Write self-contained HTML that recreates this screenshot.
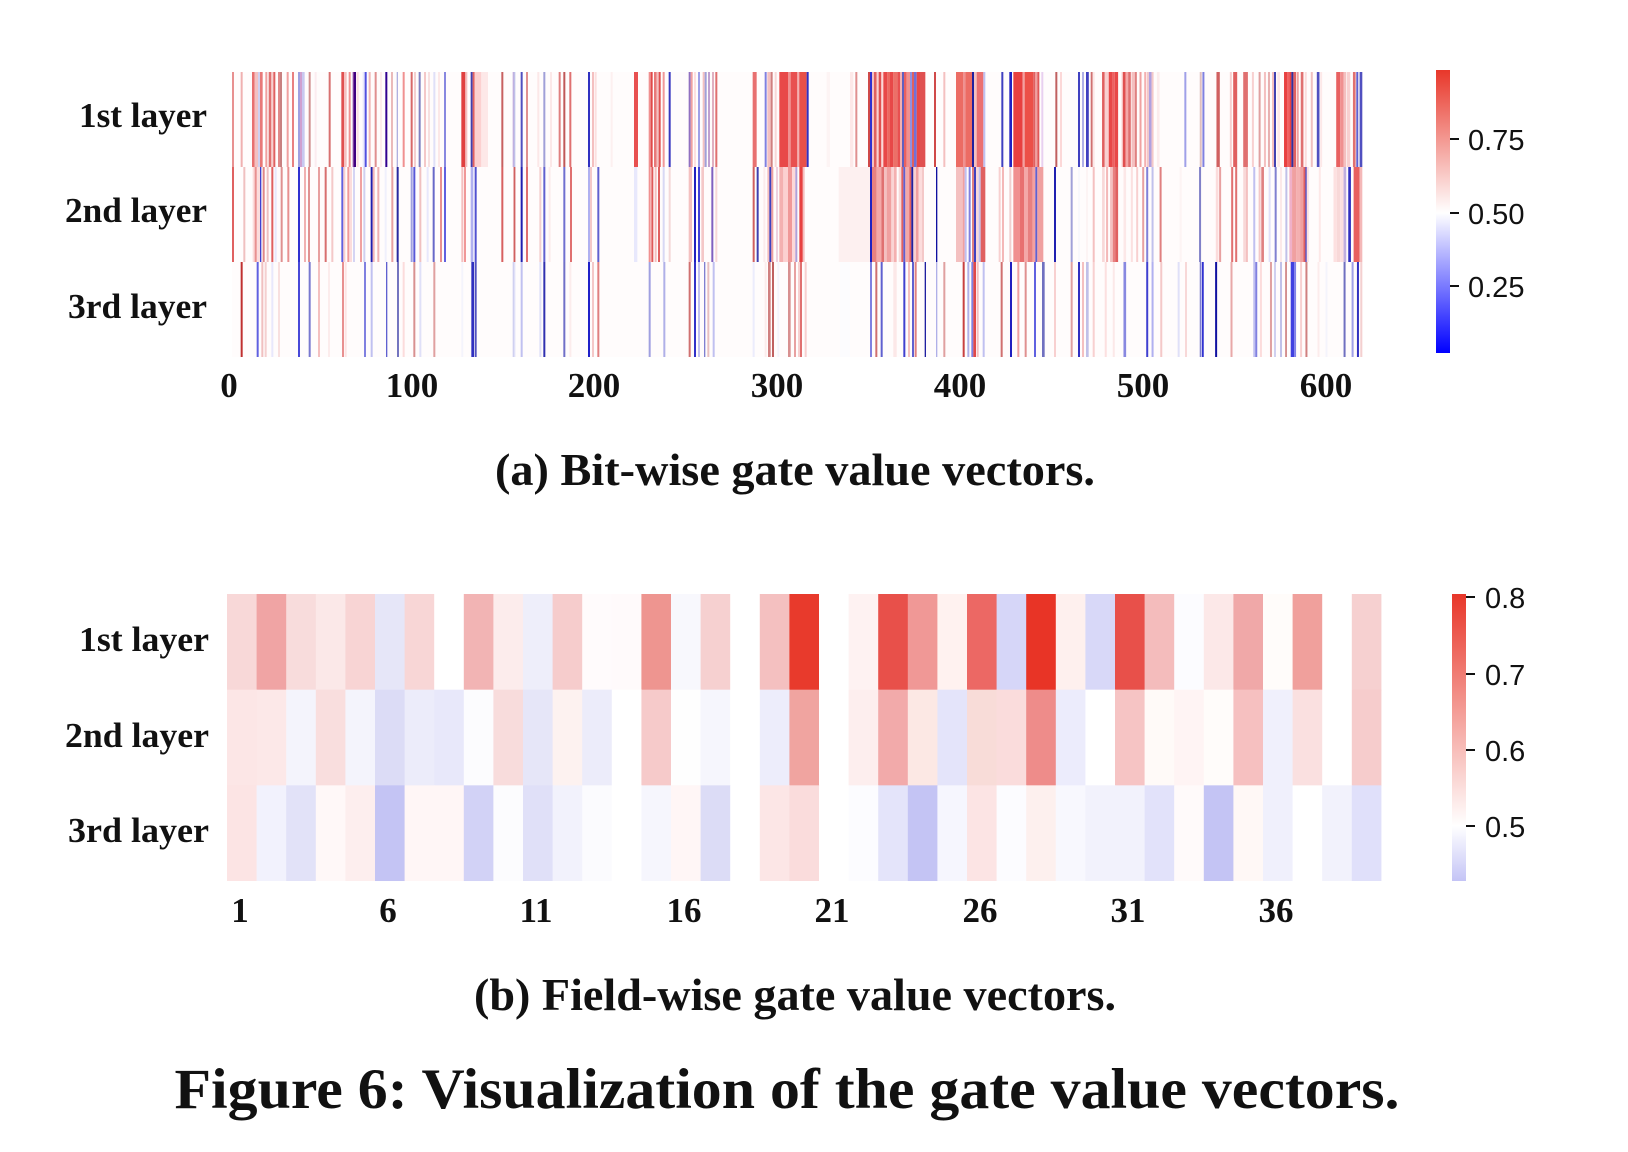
<!DOCTYPE html>
<html>
<head>
<meta charset="utf-8">
<style>
html,body{margin:0;padding:0;background:#fff;}
svg{display:block;}
.lab{font-family:"Liberation Serif",serif;font-weight:bold;fill:#111;}
.cb{font-family:"Liberation Sans",sans-serif;fill:#111;}
</style>
</head>
<body>
<svg width="1628" height="1152" viewBox="0 0 1628 1152" xmlns="http://www.w3.org/2000/svg">
<defs>
<linearGradient id="ga" x1="0" y1="0" x2="0" y2="1">
<stop offset="0" stop-color="#e8372a"/>
<stop offset="0.505" stop-color="#ffffff"/>
<stop offset="1" stop-color="#0000ff"/>
</linearGradient>
<linearGradient id="gb" x1="0" y1="0" x2="0" y2="1">
<stop offset="0" stop-color="#e8372a"/>
<stop offset="0.808" stop-color="#ffffff"/>
<stop offset="1" stop-color="#c4c4f6"/>
</linearGradient>
</defs>
<rect width="1628" height="1152" fill="#fff"/>

<!-- Panel (a) heatmap background -->
<rect x="232" y="72" width="1131" height="285" fill="#fffcfc"/>

<!-- Zoom 9 region -->
<g transform="translate(228,72) scale(0.33333,95)">
<rect x="12" y="0" width="6" height="1" fill="#e89090"/><rect x="38" y="0" width="6" height="1" fill="#f0b0b0"/><rect x="72" y="0" width="8" height="1" fill="#e87070"/><rect x="80" y="0" width="10" height="1" fill="#f4c0c0"/><rect x="90" y="0" width="6" height="1" fill="#d0d0f0"/><rect x="96" y="0" width="8" height="1" fill="#e87878"/><rect x="112" y="0" width="6" height="1" fill="#f0a0a0"/><rect x="122" y="0" width="8" height="1" fill="#e07070"/><rect x="130" y="0" width="6" height="1" fill="#f8d0d0"/><rect x="136" y="0" width="6" height="1" fill="#e06060"/><rect x="150" y="0" width="6" height="1" fill="#e08888"/><rect x="156" y="0" width="6" height="1" fill="#c88080"/><rect x="176" y="0" width="6" height="1" fill="#f0a0a0"/><rect x="192" y="0" width="6" height="1" fill="#e88080"/><rect x="210" y="0" width="6" height="1" fill="#a0a0e0"/><rect x="216" y="0" width="6" height="1" fill="#d0a0d0"/><rect x="222" y="0" width="8" height="1" fill="#c8c8f0"/><rect x="242" y="0" width="6" height="1" fill="#d09090"/><rect x="260" y="0" width="6" height="1" fill="#fcecf0"/><rect x="302" y="0" width="6" height="1" fill="#d87070"/><rect x="340" y="0" width="8" height="1" fill="#e05050"/><rect x="348" y="0" width="8" height="1" fill="#f4c0c0"/><rect x="362" y="0" width="6" height="1" fill="#f09090"/><rect x="374" y="0" width="4" height="1" fill="#8040a0"/><rect x="378" y="0" width="6" height="1" fill="#400080"/><rect x="386" y="0" width="6" height="1" fill="#fce0e0"/><rect x="404" y="0" width="6" height="1" fill="#e8e8fc"/><rect x="410" y="0" width="6" height="1" fill="#5050e0"/><rect x="422" y="0" width="6" height="1" fill="#f0b8b8"/><rect x="440" y="0" width="6" height="1" fill="#e09090"/><rect x="456" y="0" width="6" height="1" fill="#fcecec"/><rect x="472" y="0" width="6" height="1" fill="#300090"/><rect x="490" y="0" width="4" height="1" fill="#e09898"/><rect x="506" y="0" width="4" height="1" fill="#b0b0e0"/><rect x="524" y="0" width="6" height="1" fill="#f09090"/><rect x="548" y="0" width="6" height="1" fill="#d86868"/><rect x="558" y="0" width="6" height="1" fill="#f4d0d0"/><rect x="572" y="0" width="6" height="1" fill="#8080c0"/><rect x="588" y="0" width="6" height="1" fill="#f4c8c8"/><rect x="600" y="0" width="6" height="1" fill="#f8e0e0"/><rect x="616" y="0" width="6" height="1" fill="#e0e0f8"/><rect x="630" y="0" width="6" height="1" fill="#fce8e8"/><rect x="648" y="0" width="6" height="1" fill="#8888e0"/><rect x="700" y="0" width="12" height="1" fill="#e04040"/><rect x="712" y="0" width="6" height="1" fill="#f4c0c0"/><rect x="728" y="0" width="6" height="1" fill="#4040b0"/><rect x="734" y="0" width="6" height="1" fill="#e06060"/><rect x="740" y="0" width="20" height="1" fill="#fcd0d0"/><rect x="760" y="0" width="20" height="1" fill="#fde8e8"/><rect x="820" y="0" width="6" height="1" fill="#c86060"/><rect x="854" y="0" width="6" height="1" fill="#c0b0e0"/>
</g>
<g transform="translate(228,167) scale(0.33333,95)">
<rect x="12" y="0" width="6" height="1" fill="#e06060"/><rect x="46" y="0" width="6" height="1" fill="#f0c0c0"/><rect x="74" y="0" width="22" height="1" fill="#fcdcdc"/><rect x="80" y="0" width="6" height="1" fill="#e89090"/><rect x="96" y="0" width="4" height="1" fill="#4040d0"/><rect x="104" y="0" width="6" height="1" fill="#e08888"/><rect x="116" y="0" width="6" height="1" fill="#f0c0c0"/><rect x="130" y="0" width="6" height="1" fill="#e06060"/><rect x="140" y="0" width="6" height="1" fill="#e8e8fc"/><rect x="158" y="0" width="6" height="1" fill="#e09090"/><rect x="178" y="0" width="6" height="1" fill="#e89090"/><rect x="210" y="0" width="6" height="1" fill="#3030d0"/><rect x="228" y="0" width="6" height="1" fill="#f0b0b0"/><rect x="240" y="0" width="6" height="1" fill="#e09090"/><rect x="270" y="0" width="6" height="1" fill="#e8a0a0"/><rect x="290" y="0" width="6" height="1" fill="#d87070"/><rect x="310" y="0" width="6" height="1" fill="#f4c8c8"/><rect x="340" y="0" width="6" height="1" fill="#6060e0"/><rect x="346" y="0" width="6" height="1" fill="#f8d0d0"/><rect x="358" y="0" width="6" height="1" fill="#f09898"/><rect x="364" y="0" width="8" height="1" fill="#fcdcdc"/><rect x="376" y="0" width="4" height="1" fill="#c0c0f0"/><rect x="396" y="0" width="6" height="1" fill="#f0a0a0"/><rect x="406" y="0" width="6" height="1" fill="#d0d0f0"/><rect x="428" y="0" width="6" height="1" fill="#2020b0"/><rect x="434" y="0" width="6" height="1" fill="#f4b8b8"/><rect x="448" y="0" width="6" height="1" fill="#f0b0b0"/><rect x="470" y="0" width="6" height="1" fill="#f0f0fc"/><rect x="490" y="0" width="6" height="1" fill="#e8a0a0"/><rect x="506" y="0" width="6" height="1" fill="#2828a0"/><rect x="548" y="0" width="6" height="1" fill="#a0a0e0"/><rect x="556" y="0" width="6" height="1" fill="#5858d8"/><rect x="574" y="0" width="6" height="1" fill="#f0c0c0"/><rect x="596" y="0" width="6" height="1" fill="#e8e8fc"/><rect x="614" y="0" width="6" height="1" fill="#6868c8"/><rect x="636" y="0" width="6" height="1" fill="#e89090"/><rect x="648" y="0" width="6" height="1" fill="#6060e0"/><rect x="700" y="0" width="6" height="1" fill="#f4c0c0"/><rect x="708" y="0" width="6" height="1" fill="#f09898"/><rect x="728" y="0" width="8" height="1" fill="#b0b0f0"/><rect x="740" y="0" width="6" height="1" fill="#5050d0"/><rect x="820" y="0" width="6" height="1" fill="#d86060"/><rect x="856" y="0" width="6" height="1" fill="#e09090"/>
</g>
<g transform="translate(228,262) scale(0.33333,95)">
<rect x="38" y="0" width="6" height="1" fill="#c03030"/><rect x="86" y="0" width="6" height="1" fill="#6060e0"/><rect x="100" y="0" width="6" height="1" fill="#f0c0c0"/><rect x="110" y="0" width="6" height="1" fill="#f4d0d0"/><rect x="130" y="0" width="6" height="1" fill="#e8e8fc"/><rect x="150" y="0" width="6" height="1" fill="#f8e0e0"/><rect x="210" y="0" width="6" height="1" fill="#4848d8"/><rect x="242" y="0" width="6" height="1" fill="#7878d0"/><rect x="270" y="0" width="6" height="1" fill="#f4c0c0"/><rect x="300" y="0" width="6" height="1" fill="#fcecec"/><rect x="342" y="0" width="6" height="1" fill="#e89090"/><rect x="350" y="0" width="6" height="1" fill="#fde4e4"/><rect x="408" y="0" width="6" height="1" fill="#8080e0"/><rect x="428" y="0" width="6" height="1" fill="#c0c0f0"/><rect x="474" y="0" width="4" height="1" fill="#6060d0"/><rect x="508" y="0" width="4" height="1" fill="#3030a0"/><rect x="524" y="0" width="6" height="1" fill="#fcdcdc"/><rect x="556" y="0" width="6" height="1" fill="#d89090"/><rect x="574" y="0" width="6" height="1" fill="#e0e0f8"/><rect x="616" y="0" width="6" height="1" fill="#e0a0a0"/><rect x="700" y="0" width="6" height="1" fill="#f4f4fc"/><rect x="730" y="0" width="8" height="1" fill="#3030c0"/><rect x="740" y="0" width="6" height="1" fill="#5050c0"/><rect x="854" y="0" width="6" height="1" fill="#d0d0f0"/>
</g>

<!-- Zoom 10 region -->
<g transform="translate(514,72) scale(0.33333,95)">
<rect x="0" y="0" width="4" height="1" fill="#c0c0e8"/><rect x="20" y="0" width="6" height="1" fill="#5050c0"/><rect x="36" y="0" width="6" height="1" fill="#e09090"/><rect x="70" y="0" width="6" height="1" fill="#fce8e8"/><rect x="88" y="0" width="6" height="1" fill="#a0a0d8"/><rect x="108" y="0" width="6" height="1" fill="#fce8e8"/><rect x="134" y="0" width="6" height="1" fill="#e08080"/><rect x="148" y="0" width="6" height="1" fill="#c05858"/><rect x="166" y="0" width="6" height="1" fill="#e07070"/><rect x="222" y="0" width="6" height="1" fill="#3030c0"/><rect x="234" y="0" width="6" height="1" fill="#f4c0c0"/><rect x="242" y="0" width="6" height="1" fill="#fce0e0"/><rect x="290" y="0" width="6" height="1" fill="#fdf0f0"/><rect x="360" y="0" width="12" height="1" fill="#e85050"/><rect x="404" y="0" width="6" height="1" fill="#f09090"/><rect x="410" y="0" width="6" height="1" fill="#e04848"/><rect x="420" y="0" width="8" height="1" fill="#e87878"/><rect x="428" y="0" width="6" height="1" fill="#f4c0c0"/><rect x="434" y="0" width="6" height="1" fill="#e05050"/><rect x="446" y="0" width="6" height="1" fill="#f09898"/><rect x="464" y="0" width="6" height="1" fill="#3838c0"/><rect x="524" y="0" width="6" height="1" fill="#9070c0"/><rect x="530" y="0" width="6" height="1" fill="#f0a0a0"/><rect x="540" y="0" width="6" height="1" fill="#fde0e0"/><rect x="552" y="0" width="6" height="1" fill="#a0a0e8"/><rect x="566" y="0" width="6" height="1" fill="#f4c0c0"/><rect x="572" y="0" width="6" height="1" fill="#a0a0d8"/><rect x="582" y="0" width="6" height="1" fill="#c0a0d0"/><rect x="594" y="0" width="6" height="1" fill="#e0b0c0"/><rect x="604" y="0" width="6" height="1" fill="#e07070"/><rect x="716" y="0" width="12" height="1" fill="#e87070"/><rect x="752" y="0" width="6" height="1" fill="#8080e0"/><rect x="760" y="0" width="10" height="1" fill="#f4c0c0"/><rect x="770" y="0" width="6" height="1" fill="#d08080"/><rect x="782" y="0" width="6" height="1" fill="#f8d8d8"/><rect x="796" y="0" width="26" height="1" fill="#e84848"/><rect x="822" y="0" width="8" height="1" fill="#f09090"/><rect x="830" y="0" width="20" height="1" fill="#e85050"/><rect x="850" y="0" width="6" height="1" fill="#f4b0b0"/><rect x="856" y="0" width="14" height="1" fill="#e84040"/>
</g>
<g transform="translate(514,167) scale(0.33333,95)">
<rect x="0" y="0" width="4" height="1" fill="#d06060"/><rect x="20" y="0" width="6" height="1" fill="#2020b0"/><rect x="36" y="0" width="6" height="1" fill="#e07070"/><rect x="76" y="0" width="6" height="1" fill="#f4d0d0"/><rect x="88" y="0" width="6" height="1" fill="#6060d0"/><rect x="104" y="0" width="6" height="1" fill="#fcecec"/><rect x="148" y="0" width="6" height="1" fill="#7070d0"/><rect x="168" y="0" width="6" height="1" fill="#e07070"/><rect x="222" y="0" width="6" height="1" fill="#b0b0f0"/><rect x="228" y="0" width="6" height="1" fill="#f4c8c8"/><rect x="250" y="0" width="6" height="1" fill="#6060d0"/><rect x="360" y="0" width="10" height="1" fill="#e8e8fc"/><rect x="404" y="0" width="6" height="1" fill="#f09090"/><rect x="412" y="0" width="6" height="1" fill="#e05858"/><rect x="422" y="0" width="6" height="1" fill="#f4c0c0"/><rect x="432" y="0" width="6" height="1" fill="#e06060"/><rect x="446" y="0" width="6" height="1" fill="#d8d8f4"/><rect x="464" y="0" width="6" height="1" fill="#f4d8d8"/><rect x="524" y="0" width="10" height="1" fill="#f4c0c0"/><rect x="540" y="0" width="6" height="1" fill="#2020c0"/><rect x="552" y="0" width="6" height="1" fill="#4040d8"/><rect x="562" y="0" width="8" height="1" fill="#f4c8c8"/><rect x="592" y="0" width="6" height="1" fill="#8060c0"/><rect x="604" y="0" width="6" height="1" fill="#f8d8d8"/><rect x="716" y="0" width="6" height="1" fill="#d06060"/><rect x="728" y="0" width="6" height="1" fill="#4040b0"/><rect x="748" y="0" width="6" height="1" fill="#fcecec"/><rect x="760" y="0" width="6" height="1" fill="#f4c0c0"/><rect x="766" y="0" width="6" height="1" fill="#4040c0"/><rect x="772" y="0" width="6" height="1" fill="#f0a0a0"/><rect x="786" y="0" width="6" height="1" fill="#f0d0e0"/><rect x="796" y="0" width="12" height="1" fill="#f4b0b0"/><rect x="808" y="0" width="14" height="1" fill="#fcd0d0"/><rect x="822" y="0" width="12" height="1" fill="#f09898"/><rect x="834" y="0" width="10" height="1" fill="#fcd8d8"/><rect x="844" y="0" width="6" height="1" fill="#b0a0d8"/><rect x="856" y="0" width="14" height="1" fill="#e84848"/>
</g>
<g transform="translate(514,262) scale(0.33333,95)">
<rect x="0" y="0" width="4" height="1" fill="#e0e0f8"/><rect x="20" y="0" width="6" height="1" fill="#c0c0f0"/><rect x="76" y="0" width="6" height="1" fill="#e0e0f8"/><rect x="88" y="0" width="6" height="1" fill="#3030b0"/><rect x="148" y="0" width="6" height="1" fill="#7070c8"/><rect x="166" y="0" width="6" height="1" fill="#fcecec"/><rect x="222" y="0" width="6" height="1" fill="#2020c8"/><rect x="234" y="0" width="6" height="1" fill="#f4c8c8"/><rect x="250" y="0" width="6" height="1" fill="#e08080"/><rect x="404" y="0" width="6" height="1" fill="#a0a0e0"/><rect x="448" y="0" width="6" height="1" fill="#b0b0e8"/><rect x="524" y="0" width="6" height="1" fill="#d07070"/><rect x="540" y="0" width="6" height="1" fill="#3030c8"/><rect x="552" y="0" width="6" height="1" fill="#c0c0f0"/><rect x="570" y="0" width="4" height="1" fill="#8080d0"/><rect x="580" y="0" width="6" height="1" fill="#e8c0c0"/><rect x="596" y="0" width="6" height="1" fill="#c0c0f0"/><rect x="716" y="0" width="6" height="1" fill="#ececfc"/><rect x="752" y="0" width="6" height="1" fill="#fcecec"/><rect x="762" y="0" width="8" height="1" fill="#d08080"/><rect x="774" y="0" width="6" height="1" fill="#c06060"/><rect x="790" y="0" width="6" height="1" fill="#f4f4fc"/><rect x="822" y="0" width="8" height="1" fill="#d89090"/><rect x="840" y="0" width="6" height="1" fill="#e8a0a0"/><rect x="852" y="0" width="6" height="1" fill="#f8d0d0"/><rect x="858" y="0" width="6" height="1" fill="#d87070"/>
</g>

<!-- Zoom 11 region -->
<g transform="translate(800,72) scale(0.33333,95)">
<rect x="0" y="0" width="20" height="1" fill="#e85048"/><rect x="20" y="0" width="6" height="1" fill="#3030c0"/><rect x="80" y="0" width="10" height="1" fill="#fdf4f4"/><rect x="150" y="0" width="10" height="1" fill="#fde8e8"/><rect x="166" y="0" width="6" height="1" fill="#e09090"/><rect x="204" y="0" width="6" height="1" fill="#d04848"/><rect x="210" y="0" width="6" height="1" fill="#3030d0"/><rect x="216" y="0" width="6" height="1" fill="#f4c0c0"/><rect x="222" y="0" width="8" height="1" fill="#e06060"/><rect x="230" y="0" width="6" height="1" fill="#f8d0d0"/><rect x="236" y="0" width="8" height="1" fill="#e05050"/><rect x="244" y="0" width="6" height="1" fill="#fcd8d8"/><rect x="250" y="0" width="12" height="1" fill="#e84848"/><rect x="262" y="0" width="8" height="1" fill="#ec6860"/><rect x="270" y="0" width="10" height="1" fill="#e84848"/><rect x="280" y="0" width="12" height="1" fill="#ec7068"/><rect x="292" y="0" width="8" height="1" fill="#e85050"/><rect x="300" y="0" width="6" height="1" fill="#f4b0b0"/><rect x="306" y="0" width="6" height="1" fill="#6060c0"/><rect x="312" y="0" width="8" height="1" fill="#e86060"/><rect x="320" y="0" width="10" height="1" fill="#f09090"/><rect x="330" y="0" width="6" height="1" fill="#9090e0"/><rect x="336" y="0" width="6" height="1" fill="#e06060"/><rect x="342" y="0" width="8" height="1" fill="#7070d8"/><rect x="350" y="0" width="10" height="1" fill="#e84848"/><rect x="360" y="0" width="16" height="1" fill="#e05050"/><rect x="402" y="0" width="6" height="1" fill="#d04848"/><rect x="430" y="0" width="6" height="1" fill="#f4c0c0"/><rect x="468" y="0" width="22" height="1" fill="#ec6c64"/><rect x="490" y="0" width="6" height="1" fill="#f09090"/><rect x="496" y="0" width="20" height="1" fill="#ec6c64"/><rect x="516" y="0" width="6" height="1" fill="#2020a0"/><rect x="522" y="0" width="8" height="1" fill="#f4c0c0"/><rect x="530" y="0" width="20" height="1" fill="#ec7070"/><rect x="550" y="0" width="6" height="1" fill="#c0c0f0"/><rect x="604" y="0" width="6" height="1" fill="#4040c0"/><rect x="628" y="0" width="8" height="1" fill="#2020c0"/><rect x="640" y="0" width="28" height="1" fill="#e84040"/><rect x="668" y="0" width="6" height="1" fill="#f4a0a0"/><rect x="674" y="0" width="26" height="1" fill="#ec5048"/><rect x="700" y="0" width="6" height="1" fill="#e06060"/><rect x="706" y="0" width="6" height="1" fill="#f0a0a0"/><rect x="712" y="0" width="6" height="1" fill="#e05858"/><rect x="724" y="0" width="6" height="1" fill="#e8d0f0"/><rect x="766" y="0" width="6" height="1" fill="#c06060"/><rect x="780" y="0" width="6" height="1" fill="#fcd8d8"/><rect x="834" y="0" width="6" height="1" fill="#4040c0"/><rect x="846" y="0" width="6" height="1" fill="#b0b0e8"/><rect x="860" y="0" width="6" height="1" fill="#3030a0"/>
</g>
<g transform="translate(800,167) scale(0.33333,95)">
<rect x="0" y="0" width="6" height="1" fill="#e84040"/><rect x="8" y="0" width="6" height="1" fill="#f4c0c0"/><rect x="116" y="0" width="94" height="1" fill="#fdf0f0"/><rect x="210" y="0" width="6" height="1" fill="#2020c0"/><rect x="216" y="0" width="14" height="1" fill="#e88080"/><rect x="230" y="0" width="14" height="1" fill="#f4a8a8"/><rect x="244" y="0" width="8" height="1" fill="#e07070"/><rect x="252" y="0" width="8" height="1" fill="#f4c0c0"/><rect x="260" y="0" width="14" height="1" fill="#f0a0a0"/><rect x="274" y="0" width="8" height="1" fill="#fad4d4"/><rect x="282" y="0" width="8" height="1" fill="#f4b0b0"/><rect x="296" y="0" width="8" height="1" fill="#f8d8d8"/><rect x="304" y="0" width="6" height="1" fill="#e06060"/><rect x="310" y="0" width="6" height="1" fill="#6060d0"/><rect x="316" y="0" width="12" height="1" fill="#f4a8a8"/><rect x="328" y="0" width="6" height="1" fill="#e06060"/><rect x="334" y="0" width="6" height="1" fill="#2020a0"/><rect x="340" y="0" width="8" height="1" fill="#f8d0d0"/><rect x="348" y="0" width="8" height="1" fill="#f0a0a0"/><rect x="356" y="0" width="10" height="1" fill="#fcdcdc"/><rect x="366" y="0" width="6" height="1" fill="#f4c8c8"/><rect x="408" y="0" width="4" height="1" fill="#1010a0"/><rect x="468" y="0" width="20" height="1" fill="#f4c0c0"/><rect x="488" y="0" width="6" height="1" fill="#f0a0a0"/><rect x="494" y="0" width="6" height="1" fill="#c0c0f0"/><rect x="506" y="0" width="6" height="1" fill="#8080e0"/><rect x="516" y="0" width="6" height="1" fill="#e08080"/><rect x="522" y="0" width="6" height="1" fill="#4040c0"/><rect x="528" y="0" width="8" height="1" fill="#f8d8d8"/><rect x="536" y="0" width="6" height="1" fill="#c0c0f0"/><rect x="542" y="0" width="14" height="1" fill="#e06060"/><rect x="596" y="0" width="6" height="1" fill="#f8d0d0"/><rect x="606" y="0" width="6" height="1" fill="#f4b8b8"/><rect x="628" y="0" width="6" height="1" fill="#f0d0d0"/><rect x="640" y="0" width="20" height="1" fill="#f09090"/><rect x="660" y="0" width="12" height="1" fill="#e87070"/><rect x="672" y="0" width="12" height="1" fill="#f4a8a8"/><rect x="684" y="0" width="14" height="1" fill="#e88080"/><rect x="698" y="0" width="8" height="1" fill="#f4a0a0"/><rect x="706" y="0" width="6" height="1" fill="#6060d0"/><rect x="712" y="0" width="18" height="1" fill="#f0a0a0"/><rect x="762" y="0" width="6" height="1" fill="#2020b0"/><rect x="812" y="0" width="6" height="1" fill="#a0a0d8"/><rect x="834" y="0" width="6" height="1" fill="#f8f8fc"/>
</g>
<g transform="translate(800,262) scale(0.33333,95)">
<rect x="0" y="0" width="6" height="1" fill="#e07070"/><rect x="14" y="0" width="6" height="1" fill="#f8d0d0"/><rect x="120" y="0" width="30" height="1" fill="#fcfcfe"/><rect x="210" y="0" width="6" height="1" fill="#8080e0"/><rect x="226" y="0" width="6" height="1" fill="#d07070"/><rect x="242" y="0" width="6" height="1" fill="#6060d0"/><rect x="280" y="0" width="10" height="1" fill="#fce8e8"/><rect x="310" y="0" width="6" height="1" fill="#4040d0"/><rect x="324" y="0" width="6" height="1" fill="#f4c0c0"/><rect x="336" y="0" width="6" height="1" fill="#6060d0"/><rect x="344" y="0" width="6" height="1" fill="#e08080"/><rect x="374" y="0" width="4" height="1" fill="#2020a0"/><rect x="408" y="0" width="4" height="1" fill="#b0b0e8"/><rect x="430" y="0" width="6" height="1" fill="#e0a0a0"/><rect x="488" y="0" width="6" height="1" fill="#c84040"/><rect x="502" y="0" width="6" height="1" fill="#b0b0e8"/><rect x="514" y="0" width="6" height="1" fill="#8080e0"/><rect x="520" y="0" width="8" height="1" fill="#e04848"/><rect x="530" y="0" width="6" height="1" fill="#f4c0c0"/><rect x="548" y="0" width="6" height="1" fill="#c0c0f0"/><rect x="602" y="0" width="6" height="1" fill="#d07070"/><rect x="630" y="0" width="6" height="1" fill="#2020c0"/><rect x="652" y="0" width="6" height="1" fill="#f0a0a0"/><rect x="674" y="0" width="6" height="1" fill="#e09090"/><rect x="702" y="0" width="6" height="1" fill="#6060e0"/><rect x="726" y="0" width="8" height="1" fill="#7070c0"/><rect x="762" y="0" width="6" height="1" fill="#f8d0d0"/><rect x="812" y="0" width="6" height="1" fill="#e0a0a0"/><rect x="834" y="0" width="6" height="1" fill="#3030c0"/><rect x="846" y="0" width="6" height="1" fill="#f4c0c0"/><rect x="858" y="0" width="6" height="1" fill="#b0b0e8"/>
</g>

<!-- Zoom 12 region -->
<g transform="translate(1086,72) scale(0.3345,95)">
<rect x="0" y="0" width="8" height="1" fill="#4040c0"/><rect x="14" y="0" width="6" height="1" fill="#d07070"/><rect x="20" y="0" width="6" height="1" fill="#fce8e8"/><rect x="48" y="0" width="8" height="1" fill="#e06060"/><rect x="56" y="0" width="12" height="1" fill="#f8d0d0"/><rect x="68" y="0" width="12" height="1" fill="#e84848"/><rect x="80" y="0" width="6" height="1" fill="#ec6060"/><rect x="86" y="0" width="10" height="1" fill="#e84848"/><rect x="106" y="0" width="4" height="1" fill="#fcd8d8"/><rect x="110" y="0" width="8" height="1" fill="#e05050"/><rect x="118" y="0" width="8" height="1" fill="#f4a8a8"/><rect x="126" y="0" width="8" height="1" fill="#e07070"/><rect x="136" y="0" width="10" height="1" fill="#f4c0c0"/><rect x="146" y="0" width="6" height="1" fill="#e08080"/><rect x="160" y="0" width="6" height="1" fill="#f0a0a0"/><rect x="174" y="0" width="6" height="1" fill="#f4b0b0"/><rect x="182" y="0" width="6" height="1" fill="#f4c8c8"/><rect x="188" y="0" width="8" height="1" fill="#b0a0e0"/><rect x="196" y="0" width="6" height="1" fill="#f4c8c8"/><rect x="212" y="0" width="8" height="1" fill="#fcecec"/><rect x="294" y="0" width="6" height="1" fill="#a0a0e8"/><rect x="340" y="0" width="6" height="1" fill="#e0c0c0"/><rect x="348" y="0" width="6" height="1" fill="#8080e0"/><rect x="390" y="0" width="10" height="1" fill="#d06060"/><rect x="430" y="0" width="6" height="1" fill="#f8d0d0"/><rect x="440" y="0" width="12" height="1" fill="#e06060"/><rect x="470" y="0" width="14" height="1" fill="#e07070"/><rect x="496" y="0" width="6" height="1" fill="#f8d0d0"/><rect x="516" y="0" width="6" height="1" fill="#e0a0a0"/><rect x="532" y="0" width="6" height="1" fill="#f4c0c0"/><rect x="544" y="0" width="6" height="1" fill="#e8b0b0"/><rect x="556" y="0" width="6" height="1" fill="#f4c0c0"/><rect x="562" y="0" width="6" height="1" fill="#4040b0"/><rect x="572" y="0" width="8" height="1" fill="#fde8e8"/><rect x="592" y="0" width="10" height="1" fill="#e84040"/><rect x="602" y="0" width="6" height="1" fill="#f06060"/><rect x="608" y="0" width="6" height="1" fill="#e84040"/><rect x="614" y="0" width="6" height="1" fill="#3030a0"/><rect x="620" y="0" width="8" height="1" fill="#e06060"/><rect x="630" y="0" width="6" height="1" fill="#f0a0a0"/><rect x="642" y="0" width="8" height="1" fill="#e07070"/><rect x="654" y="0" width="6" height="1" fill="#fcdcdc"/><rect x="672" y="0" width="6" height="1" fill="#f0c0c0"/><rect x="690" y="0" width="8" height="1" fill="#5050c0"/><rect x="700" y="0" width="6" height="1" fill="#fde8e8"/><rect x="748" y="0" width="12" height="1" fill="#e86060"/><rect x="760" y="0" width="10" height="1" fill="#f09090"/><rect x="770" y="0" width="8" height="1" fill="#f4c0c0"/><rect x="780" y="0" width="10" height="1" fill="#f8d0d0"/><rect x="798" y="0" width="8" height="1" fill="#e07070"/><rect x="808" y="0" width="6" height="1" fill="#6060d0"/><rect x="818" y="0" width="8" height="1" fill="#5050c0"/>
</g>
<g transform="translate(1086,167) scale(0.3345,95)">
<rect x="0" y="0" width="6" height="1" fill="#fdf4f4"/><rect x="20" y="0" width="6" height="1" fill="#f4c0c0"/><rect x="48" y="0" width="8" height="1" fill="#f8d8d8"/><rect x="60" y="0" width="6" height="1" fill="#f4b8b8"/><rect x="72" y="0" width="8" height="1" fill="#f4c0c0"/><rect x="80" y="0" width="8" height="1" fill="#e88080"/><rect x="88" y="0" width="8" height="1" fill="#e06060"/><rect x="112" y="0" width="8" height="1" fill="#fce8e8"/><rect x="134" y="0" width="6" height="1" fill="#fce0e0"/><rect x="150" y="0" width="6" height="1" fill="#f8d0d0"/><rect x="168" y="0" width="6" height="1" fill="#e8a0a0"/><rect x="180" y="0" width="6" height="1" fill="#8080d8"/><rect x="196" y="0" width="6" height="1" fill="#c0c0ec"/><rect x="220" y="0" width="6" height="1" fill="#e08080"/><rect x="280" y="0" width="6" height="1" fill="#fdf4f4"/><rect x="338" y="0" width="6" height="1" fill="#8080c8"/><rect x="388" y="0" width="8" height="1" fill="#fcdcdc"/><rect x="398" y="0" width="6" height="1" fill="#e8a0a0"/><rect x="434" y="0" width="6" height="1" fill="#e07070"/><rect x="446" y="0" width="6" height="1" fill="#e07070"/><rect x="470" y="0" width="8" height="1" fill="#f8d8d8"/><rect x="478" y="0" width="6" height="1" fill="#f4c0c0"/><rect x="500" y="0" width="6" height="1" fill="#c0c0f0"/><rect x="516" y="0" width="6" height="1" fill="#f4c8c8"/><rect x="524" y="0" width="8" height="1" fill="#e08080"/><rect x="546" y="0" width="6" height="1" fill="#e0e0f8"/><rect x="564" y="0" width="6" height="1" fill="#8080d0"/><rect x="580" y="0" width="6" height="1" fill="#fce8e8"/><rect x="596" y="0" width="6" height="1" fill="#c0c0e8"/><rect x="608" y="0" width="8" height="1" fill="#f0b0c8"/><rect x="616" y="0" width="12" height="1" fill="#f0a0a0"/><rect x="628" y="0" width="12" height="1" fill="#f4b0b0"/><rect x="640" y="0" width="10" height="1" fill="#f0a0a0"/><rect x="650" y="0" width="6" height="1" fill="#e06060"/><rect x="656" y="0" width="4" height="1" fill="#4040c0"/><rect x="660" y="0" width="6" height="1" fill="#fce0e0"/><rect x="696" y="0" width="6" height="1" fill="#fde8e8"/><rect x="740" y="0" width="10" height="1" fill="#fde0e0"/><rect x="750" y="0" width="10" height="1" fill="#f8d8d8"/><rect x="760" y="0" width="10" height="1" fill="#fce0e0"/><rect x="770" y="0" width="8" height="1" fill="#c0b0e0"/><rect x="784" y="0" width="8" height="1" fill="#3030c0"/><rect x="800" y="0" width="18" height="1" fill="#e86060"/><rect x="818" y="0" width="8" height="1" fill="#f4b8b8"/>
</g>
<g transform="translate(1086,262) scale(0.3345,95)">
<rect x="0" y="0" width="8" height="1" fill="#c0c0e8"/><rect x="20" y="0" width="6" height="1" fill="#f8d0d0"/><rect x="56" y="0" width="6" height="1" fill="#fce0e0"/><rect x="80" y="0" width="6" height="1" fill="#fce8e8"/><rect x="112" y="0" width="8" height="1" fill="#8888e0"/><rect x="180" y="0" width="6" height="1" fill="#4040d0"/><rect x="196" y="0" width="6" height="1" fill="#b0b0f0"/><rect x="222" y="0" width="6" height="1" fill="#f4c8c8"/><rect x="274" y="0" width="6" height="1" fill="#e0e0f8"/><rect x="296" y="0" width="6" height="1" fill="#f8d8d8"/><rect x="340" y="0" width="4" height="1" fill="#8080d0"/><rect x="346" y="0" width="6" height="1" fill="#3030d0"/><rect x="386" y="0" width="6" height="1" fill="#1010a0"/><rect x="432" y="0" width="6" height="1" fill="#e8a8a8"/><rect x="500" y="0" width="6" height="1" fill="#c0c0f0"/><rect x="506" y="0" width="6" height="1" fill="#8080e0"/><rect x="520" y="0" width="6" height="1" fill="#fcdcdc"/><rect x="550" y="0" width="6" height="1" fill="#e0a0a0"/><rect x="562" y="0" width="6" height="1" fill="#d0d0f0"/><rect x="580" y="0" width="6" height="1" fill="#c0c0e8"/><rect x="596" y="0" width="4" height="1" fill="#c06060"/><rect x="612" y="0" width="10" height="1" fill="#4040e0"/><rect x="622" y="0" width="6" height="1" fill="#8080e8"/><rect x="640" y="0" width="6" height="1" fill="#f8d0d0"/><rect x="656" y="0" width="6" height="1" fill="#d08080"/><rect x="692" y="0" width="6" height="1" fill="#fcecec"/><rect x="716" y="0" width="6" height="1" fill="#f4f4fc"/><rect x="770" y="0" width="6" height="1" fill="#7070c0"/><rect x="794" y="0" width="6" height="1" fill="#a0a0e8"/><rect x="810" y="0" width="6" height="1" fill="#3030c0"/><rect x="820" y="0" width="6" height="1" fill="#f4d0d0"/>
</g>

<!-- Panel (a) labels -->
<text class="lab" x="207" y="127" font-size="35" text-anchor="end" textLength="128" lengthAdjust="spacingAndGlyphs">1st layer</text>
<text class="lab" x="207" y="222" font-size="35" text-anchor="end" textLength="142" lengthAdjust="spacingAndGlyphs">2nd layer</text>
<text class="lab" x="207" y="318" font-size="35" text-anchor="end" textLength="139" lengthAdjust="spacingAndGlyphs">3rd layer</text>

<g class="lab" font-size="35" text-anchor="middle">
<text x="229" y="397">0</text>
<text x="412" y="397">100</text>
<text x="594" y="397">200</text>
<text x="777" y="397">300</text>
<text x="960" y="397">400</text>
<text x="1143" y="397">500</text>
<text x="1326" y="397">600</text>
</g>

<!-- Colorbar (a) -->
<rect x="1436" y="70" width="14" height="283" fill="url(#ga)"/>
<g stroke="#111" stroke-width="2">
<line x1="1450" y1="139" x2="1459" y2="139"/>
<line x1="1450" y1="213" x2="1459" y2="213"/>
<line x1="1450" y1="286" x2="1459" y2="286"/>
</g>
<g class="cb" font-size="29">
<text x="1468" y="150">0.75</text>
<text x="1468" y="224">0.50</text>
<text x="1468" y="297">0.25</text>
</g>

<text class="lab" x="795" y="485" font-size="46" text-anchor="middle" textLength="600" lengthAdjust="spacingAndGlyphs">(a) Bit-wise gate value vectors.</text>

<!-- Panel (b) heatmap -->
<g transform="translate(227,594) scale(29.6,95.67)">
<!-- row 1 -->
<rect x="0" y="0" width="1.02" height="1.01" fill="#f8d8d8"/><rect x="1" y="0" width="1.02" height="1.01" fill="#f0a4a4"/><rect x="2" y="0" width="1.02" height="1.01" fill="#f8dcdc"/><rect x="3" y="0" width="1.02" height="1.01" fill="#fbe8e8"/><rect x="4" y="0" width="1.02" height="1.01" fill="#f8d4d4"/><rect x="5" y="0" width="1.02" height="1.01" fill="#e6e6f8"/><rect x="6" y="0" width="1.02" height="1.01" fill="#f8d6d6"/><rect x="7" y="0" width="1.02" height="1.01" fill="#ffffff"/><rect x="8" y="0" width="1.02" height="1.01" fill="#f2b4b4"/><rect x="9" y="0" width="1.02" height="1.01" fill="#fcecec"/><rect x="10" y="0" width="1.02" height="1.01" fill="#eeeefa"/><rect x="11" y="0" width="1.02" height="1.01" fill="#f6cccc"/><rect x="12" y="0" width="1.02" height="1.01" fill="#fffbfc"/><rect x="13" y="0" width="1.02" height="1.01" fill="#fffafb"/><rect x="14" y="0" width="1.02" height="1.01" fill="#ee9590"/><rect x="15" y="0" width="1.02" height="1.01" fill="#f8f8fd"/><rect x="16" y="0" width="1.02" height="1.01" fill="#f6d0d0"/><rect x="17" y="0" width="1.02" height="1.01" fill="#ffffff"/><rect x="18" y="0" width="1.02" height="1.01" fill="#f4c0c0"/><rect x="19" y="0" width="1.02" height="1.01" fill="#e83a2c"/><rect x="20" y="0" width="1.02" height="1.01" fill="#ffffff"/><rect x="21" y="0" width="1.02" height="1.01" fill="#fef2f2"/><rect x="22" y="0" width="1.02" height="1.01" fill="#e8504a"/><rect x="23" y="0" width="1.02" height="1.01" fill="#f09896"/><rect x="24" y="0" width="1.02" height="1.01" fill="#fff2f0"/><rect x="25" y="0" width="1.02" height="1.01" fill="#ec6864"/><rect x="26" y="0" width="1.02" height="1.01" fill="#d6d6f8"/><rect x="27" y="0" width="1.02" height="1.01" fill="#e83426"/><rect x="28" y="0" width="1.02" height="1.01" fill="#fef0ee"/><rect x="29" y="0" width="1.02" height="1.01" fill="#d8d8f8"/><rect x="30" y="0" width="1.02" height="1.01" fill="#e8504a"/><rect x="31" y="0" width="1.02" height="1.01" fill="#f4bcbc"/><rect x="32" y="0" width="1.02" height="1.01" fill="#fcfcff"/><rect x="33" y="0" width="1.02" height="1.01" fill="#fce8e8"/><rect x="34" y="0" width="1.02" height="1.01" fill="#f0a8a8"/><rect x="35" y="0" width="1.02" height="1.01" fill="#fffcfa"/><rect x="36" y="0" width="1.02" height="1.01" fill="#f0a09c"/><rect x="37" y="0" width="1.02" height="1.01" fill="#ffffff"/><rect x="38" y="0" width="1" height="1.01" fill="#f6d0d0"/>
<!-- row 2 -->
<rect x="0" y="1" width="1.02" height="1.01" fill="#fce6e6"/><rect x="1" y="1" width="1.02" height="1.01" fill="#fce8e8"/><rect x="2" y="1" width="1.02" height="1.01" fill="#f4f4fc"/><rect x="3" y="1" width="1.02" height="1.01" fill="#f9dede"/><rect x="4" y="1" width="1.02" height="1.01" fill="#f4f4fc"/><rect x="5" y="1" width="1.02" height="1.01" fill="#dcdcf6"/><rect x="6" y="1" width="1.02" height="1.01" fill="#ececfa"/><rect x="7" y="1" width="1.02" height="1.01" fill="#e8e8fa"/><rect x="8" y="1" width="1.02" height="1.01" fill="#fcfcfe"/><rect x="9" y="1" width="1.02" height="1.01" fill="#f8dcdc"/><rect x="10" y="1" width="1.02" height="1.01" fill="#e6e6f8"/><rect x="11" y="1" width="1.02" height="1.01" fill="#fdf2f0"/><rect x="12" y="1" width="1.02" height="1.01" fill="#ececfa"/><rect x="13" y="1" width="1.02" height="1.01" fill="#ffffff"/><rect x="14" y="1" width="1.02" height="1.01" fill="#f6caca"/><rect x="15" y="1" width="1.02" height="1.01" fill="#fefefe"/><rect x="16" y="1" width="1.02" height="1.01" fill="#f6f6fd"/><rect x="17" y="1" width="1.02" height="1.01" fill="#ffffff"/><rect x="18" y="1" width="1.02" height="1.01" fill="#ededfb"/><rect x="19" y="1" width="1.02" height="1.01" fill="#f0a4a0"/><rect x="20" y="1" width="1.02" height="1.01" fill="#ffffff"/><rect x="21" y="1" width="1.02" height="1.01" fill="#fdeeee"/><rect x="22" y="1" width="1.02" height="1.01" fill="#f2aaaa"/><rect x="23" y="1" width="1.02" height="1.01" fill="#fce8e4"/><rect x="24" y="1" width="1.02" height="1.01" fill="#e4e4fa"/><rect x="25" y="1" width="1.02" height="1.01" fill="#f8dcd8"/><rect x="26" y="1" width="1.02" height="1.01" fill="#fadcdc"/><rect x="27" y="1" width="1.02" height="1.01" fill="#ee8c8a"/><rect x="28" y="1" width="1.02" height="1.01" fill="#ececfc"/><rect x="29" y="1" width="1.02" height="1.01" fill="#ffffff"/><rect x="30" y="1" width="1.02" height="1.01" fill="#f6c4c4"/><rect x="31" y="1" width="1.02" height="1.01" fill="#fffaf8"/><rect x="32" y="1" width="1.02" height="1.01" fill="#fff4f4"/><rect x="33" y="1" width="1.02" height="1.01" fill="#fffcfa"/><rect x="34" y="1" width="1.02" height="1.01" fill="#f6c0c0"/><rect x="35" y="1" width="1.02" height="1.01" fill="#f0f0fc"/><rect x="36" y="1" width="1.02" height="1.01" fill="#fae0e0"/><rect x="37" y="1" width="1.02" height="1.01" fill="#ffffff"/><rect x="38" y="1" width="1" height="1.01" fill="#f6cccc"/>
<!-- row 3 -->
<rect x="0" y="2" width="1.02" height="1" fill="#fce4e4"/><rect x="1" y="2" width="1.02" height="1" fill="#f2f2fd"/><rect x="2" y="2" width="1.02" height="1" fill="#e2e2f8"/><rect x="3" y="2" width="1.02" height="1" fill="#fff8f8"/><rect x="4" y="2" width="1.02" height="1" fill="#fdeeee"/><rect x="5" y="2" width="1.02" height="1" fill="#c4c4f4"/><rect x="6" y="2" width="1.02" height="1" fill="#fff6f6"/><rect x="7" y="2" width="1.02" height="1" fill="#fff6f6"/><rect x="8" y="2" width="1.02" height="1" fill="#d2d2f6"/><rect x="9" y="2" width="1.02" height="1" fill="#fcfcfe"/><rect x="10" y="2" width="1.02" height="1" fill="#e0e0f8"/><rect x="11" y="2" width="1.02" height="1" fill="#f2f2fc"/><rect x="12" y="2" width="1.02" height="1" fill="#fbfbfe"/><rect x="13" y="2" width="1.02" height="1" fill="#ffffff"/><rect x="14" y="2" width="1.02" height="1" fill="#f6f6fd"/><rect x="15" y="2" width="1.02" height="1" fill="#fff6f6"/><rect x="16" y="2" width="1.02" height="1" fill="#dcdcf6"/><rect x="17" y="2" width="1.02" height="1" fill="#ffffff"/><rect x="18" y="2" width="1.02" height="1" fill="#fce6e6"/><rect x="19" y="2" width="1.02" height="1" fill="#fadcdc"/><rect x="20" y="2" width="1.02" height="1" fill="#ffffff"/><rect x="21" y="2" width="1.02" height="1" fill="#fcfcff"/><rect x="22" y="2" width="1.02" height="1" fill="#e4e4fa"/><rect x="23" y="2" width="1.02" height="1" fill="#c4c4f4"/><rect x="24" y="2" width="1.02" height="1" fill="#f6f6fe"/><rect x="25" y="2" width="1.02" height="1" fill="#fce4e4"/><rect x="26" y="2" width="1.02" height="1" fill="#fcfcff"/><rect x="27" y="2" width="1.02" height="1" fill="#fdf0ee"/><rect x="28" y="2" width="1.02" height="1" fill="#f8f8fe"/><rect x="29" y="2" width="1.02" height="1" fill="#f2f2fc"/><rect x="30" y="2" width="1.02" height="1" fill="#f2f2fc"/><rect x="31" y="2" width="1.02" height="1" fill="#e2e2fa"/><rect x="32" y="2" width="1.02" height="1" fill="#fffafa"/><rect x="33" y="2" width="1.02" height="1" fill="#c4c4f4"/><rect x="34" y="2" width="1.02" height="1" fill="#fff8f6"/><rect x="35" y="2" width="1.02" height="1" fill="#f0f0fc"/><rect x="36" y="2" width="1.02" height="1" fill="#ffffff"/><rect x="37" y="2" width="1.02" height="1" fill="#f2f2fc"/><rect x="38" y="2" width="1" height="1" fill="#e0e0fa"/>
</g>

<!-- Panel (b) labels -->
<text class="lab" x="209" y="651" font-size="35" text-anchor="end" textLength="130" lengthAdjust="spacingAndGlyphs">1st layer</text>
<text class="lab" x="209" y="747" font-size="35" text-anchor="end" textLength="144" lengthAdjust="spacingAndGlyphs">2nd layer</text>
<text class="lab" x="209" y="842" font-size="35" text-anchor="end" textLength="141" lengthAdjust="spacingAndGlyphs">3rd layer</text>

<g class="lab" font-size="35" text-anchor="middle">
<text x="240" y="922">1</text>
<text x="388" y="922">6</text>
<text x="536" y="922">11</text>
<text x="684" y="922">16</text>
<text x="832" y="922">21</text>
<text x="980" y="922">26</text>
<text x="1128" y="922">31</text>
<text x="1276" y="922">36</text>
</g>

<!-- Colorbar (b) -->
<rect x="1452" y="594" width="14" height="287" fill="url(#gb)"/>
<g stroke="#111" stroke-width="2">
<line x1="1466" y1="597" x2="1475" y2="597"/>
<line x1="1466" y1="674" x2="1475" y2="674"/>
<line x1="1466" y1="750" x2="1475" y2="750"/>
<line x1="1466" y1="826" x2="1475" y2="826"/>
</g>
<g class="cb" font-size="29">
<text x="1485" y="608">0.8</text>
<text x="1485" y="685">0.7</text>
<text x="1485" y="761">0.6</text>
<text x="1485" y="837">0.5</text>
</g>

<text class="lab" x="795" y="1010" font-size="46" text-anchor="middle" textLength="642" lengthAdjust="spacingAndGlyphs">(b) Field-wise gate value vectors.</text>

<text class="lab" x="787" y="1108" font-size="57" text-anchor="middle" textLength="1225" lengthAdjust="spacingAndGlyphs">Figure 6: Visualization of the gate value vectors.</text>
</svg>
</body>
</html>
